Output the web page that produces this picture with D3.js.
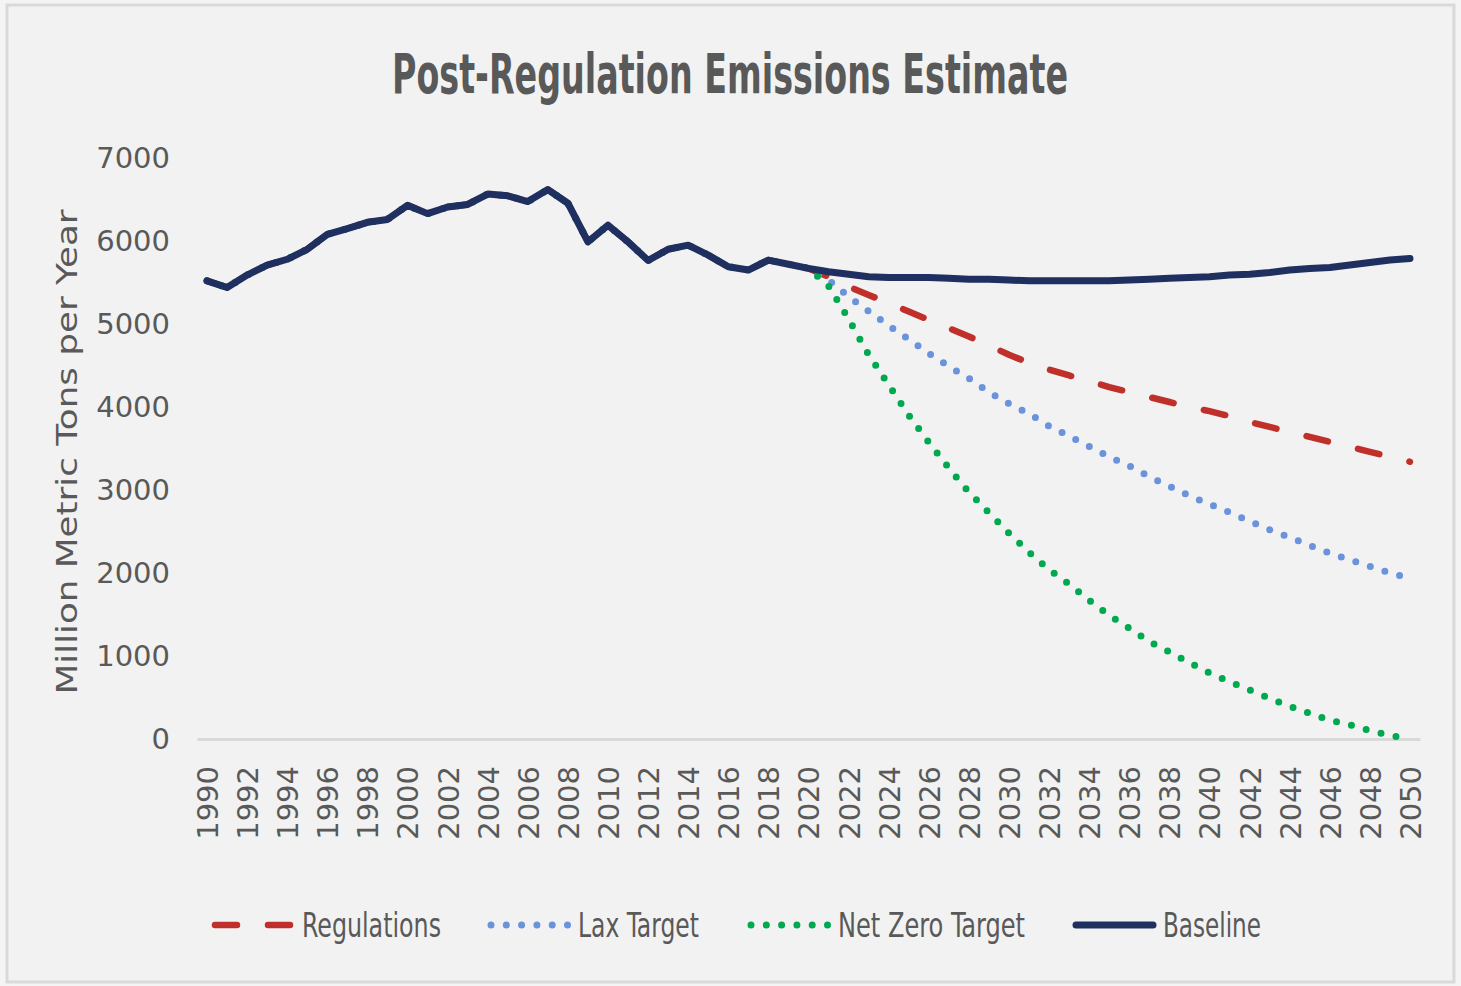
<!DOCTYPE html>
<html lang="en">
<head>
  <meta charset="UTF-8">
  <title>Post-Regulation Emissions Estimate</title>
  <script src="https://d3js.org/d3.v7.min.js"></script>
  <style>
    body { margin: 0; background: #f4f4f4; }
    .axis text { fill: #595959; font-family: "DejaVu Sans", Lato, sans-serif; font-size: 29px; }
  </style>
</head>
<body>
  <svg width="1461" height="986"></svg>
  <script>
  const years = [1990, 1991, 1992, 1993, 1994, 1995, 1996, 1997, 1998, 1999,
    2000, 2001, 2002, 2003, 2004, 2005, 2006, 2007, 2008, 2009,
    2010, 2011, 2012, 2013, 2014, 2015, 2016, 2017, 2018, 2019,
    2020, 2021, 2022, 2023, 2024, 2025, 2026, 2027, 2028, 2029,
    2030, 2031, 2032, 2033, 2034, 2035, 2036, 2037, 2038, 2039,
    2040, 2041, 2042, 2043, 2044, 2045, 2046, 2047, 2048, 2049, 2050];

  // 1990-2020, shared by every scenario
  const history = [5520, 5440, 5590, 5710, 5780, 5900, 6080, 6150, 6225, 6260,
    6430, 6330, 6410, 6440, 6565, 6545, 6475, 6620, 6455, 5990,
    6190, 5990, 5765, 5900, 5950, 5830, 5690, 5650, 5770, 5720, 5670];

  // 2021-2050
  const baselineProj = [5630, 5600, 5570, 5560, 5560, 5560, 5550, 5540, 5540, 5530,
    5520, 5520, 5520, 5520, 5520, 5530, 5540, 5550, 5560, 5570,
    5590, 5600, 5620, 5650, 5670, 5680, 5710, 5740, 5770, 5790];
  const regulationsProj = [5570, 5450, 5350, 5250, 5150, 5050, 4950, 4850, 4740, 4630,
    4530, 4450, 4380, 4310, 4240, 4180, 4120, 4060, 4000, 3950,
    3890, 3820, 3760, 3700, 3640, 3580, 3520, 3460, 3400, 3340];
  const laxProj = [5530, 5330, 5155, 4980, 4815, 4645, 4490, 4345, 4180, 4040,
    3920, 3770, 3650, 3525, 3400, 3290, 3160, 3045, 2930, 2830,
    2730, 2625, 2520, 2430, 2330, 2240, 2160, 2080, 2000, 1940];
  const netZeroProj = [5460, 5060, 4630, 4265, 3900, 3575, 3265, 2975, 2725, 2480,
    2250, 2040, 1865, 1670, 1490, 1335, 1175, 1050, 920, 795,
    690, 590, 490, 395, 310, 225, 170, 100, 45, 0];

  const seriesNames = ["Regulations", "Lax Target", "Net Zero Target", "Baseline"];
  const yTicks = [0, 1000, 2000, 3000, 4000, 5000, 6000, 7000];

  const styles = {
    "Regulations": { color: "#c0302a", width: 6.5, dash: "22 31" },
    "Lax Target": { color: "#6b93dc", width: 7, dash: "0 15.3" },
    "Net Zero Target": { color: "#00a84f", width: 7, dash: "0 15.3" },
    "Baseline": { color: "#1f2f60", width: 7, dash: null }
  };

  const series = [
    { name: "Regulations", values: history.concat(regulationsProj) },
    { name: "Lax Target", values: history.concat(laxProj) },
    { name: "Net Zero Target", values: history.concat(netZeroProj) },
    { name: "Baseline", values: history.concat(baselineProj) }
  ];

  const svg = d3.select("svg");

  svg.append("rect")
    .attr("x", 7).attr("y", 5)
    .attr("width", 1447).attr("height", 977)
    .attr("fill", "#f2f2f2")
    .attr("stroke", "#d9d9d9")
    .attr("stroke-width", 3);

  svg.append("text")
    .attr("x", 730)
    .attr("y", 93)
    .attr("text-anchor", "middle")
    .attr("textLength", 676)
    .attr("lengthAdjust", "spacingAndGlyphs")
    .style("font-family", "'Liberation Sans Narrow', 'DejaVu Sans Condensed', sans-serif")
    .style("font-weight", "bold")
    .style("font-size", "56px")
    .style("fill", "#595959")
    .text("Post-Regulation Emissions Estimate");

  const x = d3.scalePoint().domain(years).range([197, 1420]).padding(0.5);
  const y = d3.scaleLinear().domain([0, 7000]).range([739, 158]);

  const xAxis = svg.append("g")
    .attr("class", "x axis")
    .attr("transform", "translate(0,739)")
    .call(d3.axisBottom(x).tickValues(years.filter(d => d % 2 === 0)).tickSize(0).tickPadding(0));
  xAxis.select(".domain").attr("stroke", "#d9d9d9").attr("stroke-width", 3);
  xAxis.selectAll("text")
    .attr("transform", "rotate(-90)")
    .attr("text-anchor", "end")
    .attr("x", -27)
    .attr("y", 0)
    .attr("dy", "0.36em");

  const yAxis = svg.append("g")
    .attr("class", "y axis")
    .attr("transform", "translate(170,0)")
    .call(d3.axisLeft(y).tickValues(yTicks).tickSize(0).tickPadding(0).tickFormat(d3.format("d")));
  yAxis.select(".domain").remove();

  svg.append("text")
    .attr("transform", "translate(77,452) rotate(-90)")
    .attr("text-anchor", "middle")
    .attr("textLength", 485)
    .attr("lengthAdjust", "spacingAndGlyphs")
    .style("font-family", "'DejaVu Sans', Lato, sans-serif")
    .style("font-size", "29px")
    .style("fill", "#595959")
    .text("Million Metric Tons per Year");

  const line = d3.line()
    .x((d, i) => x(years[i]))
    .y(d => y(d));

  svg.selectAll(".series")
    .data(series)
    .enter()
    .append("path")
    .attr("class", "series")
    .attr("d", d => line(d.values))
    .attr("fill", "none")
    .attr("stroke", d => styles[d.name].color)
    .attr("stroke-width", d => styles[d.name].width)
    .attr("stroke-linecap", "round")
    .attr("stroke-linejoin", "round")
    .attr("stroke-dasharray", d => styles[d.name].dash);

  // legend
  const legendX = [212, 488, 748, 1073];
  const legendW = [139, 121, 187, 98];
  const legend = svg.selectAll(".legend")
    .data(seriesNames)
    .enter()
    .append("g")
    .attr("class", "legend")
    .attr("transform", (d, i) => `translate(${legendX[i]},925)`);

  legend.append("line")
    .attr("x1", 3).attr("x2", 80)
    .attr("y1", 0).attr("y2", 0)
    .attr("stroke", d => styles[d].color)
    .attr("stroke-width", d => styles[d].width)
    .attr("stroke-linecap", "round")
    .attr("stroke-dasharray", d => styles[d].dash);

  legend.append("text")
    .attr("x", 90)
    .attr("y", 12)
    .attr("textLength", (d, i) => legendW[i])
    .attr("lengthAdjust", "spacingAndGlyphs")
    .style("font-family", "'Liberation Sans Narrow', 'DejaVu Sans Condensed', sans-serif")
    .style("font-size", "34px")
    .style("fill", "#595959")
    .text(d => d);
  </script>
</body>
</html>
